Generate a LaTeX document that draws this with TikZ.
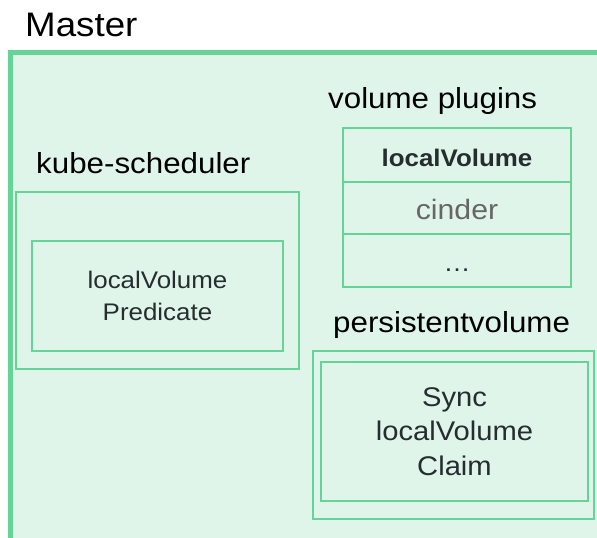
\documentclass[tikz,border=0pt]{standalone}
\usepackage{fontspec}
\setmainfont{Liberation Sans}[FakeStretch=1.08]
\definecolor{boxline}{RGB}{102,212,153}
\definecolor{boxfill}{RGB}{224,245,234}
\definecolor{inktext}{RGB}{38,45,48}
\definecolor{mutedtext}{RGB}{102,102,102}
\begin{document}
\begin{tikzpicture}[x=1pt,y=-1pt,
  heading/.style={anchor=base west,inner sep=0pt,text=black,font=\fontsize{29}{34}\selectfont},
  panel/.style={draw=boxline,line width=2.5pt,inner sep=0pt},
  row/.style={panel,minimum width=228pt,text height=22pt,text depth=0pt,text=inktext}]
  \useasboundingbox (0,0) rectangle (597,538);
  \clip (0,0) rectangle (597,538);
  \fill[white] (0,0) rectangle (597,538);

  % outer master frame, running off the right and bottom edges
  \node[draw=boxline,fill=boxfill,line width=5pt,inner sep=0pt,
        minimum width=609.5pt,minimum height=507.5pt] (master) at (315.25,306.25) {};
  \node[anchor=base west,inner sep=0pt,font=\fontsize{34}{40}\selectfont] (mastertitle) at (25,36) {Master};

  % scheduler
  \node[heading] (schedtitle) at (36,173) {kube-scheduler};
  \node[panel,minimum width=283pt,minimum height=177pt] (sched) at (157.5,280.5) {};
  \node[panel,minimum width=251pt,minimum height=110pt,align=center,text=inktext,
        font=\fontsize{24}{32}\selectfont] (pred) at (157.5,296) {localVolume\\Predicate};

  % volume plugin table
  \node[heading] (plugtitle) at (328,108) {volume plugins};
  \node[row,minimum height=54pt,font=\bfseries\fontsize{24}{28}\selectfont] (plocal) at (457,155) {localVolume};
  \node[row,minimum height=52pt,text=mutedtext,font=\fontsize{28}{32}\selectfont] (pcinder) at (457,208) {cinder};
  \node[row,minimum height=53pt,font=\fontsize{25}{30}\selectfont] (pmore) at (457,260.5) {…};

  % persistent volume controller
  \node[heading] (pvtitle) at (333,332) {persistentvolume};
  \node[panel,minimum width=281pt,minimum height=168pt] (pv) at (453.5,435) {};
  \node[panel,minimum width=267pt,minimum height=139pt,align=center,text=inktext,
        font=\fontsize{27}{34.5}\selectfont] (pvsync) at (454.5,431.5) {Sync\\localVolume\\Claim};
\end{tikzpicture}
\end{document}
